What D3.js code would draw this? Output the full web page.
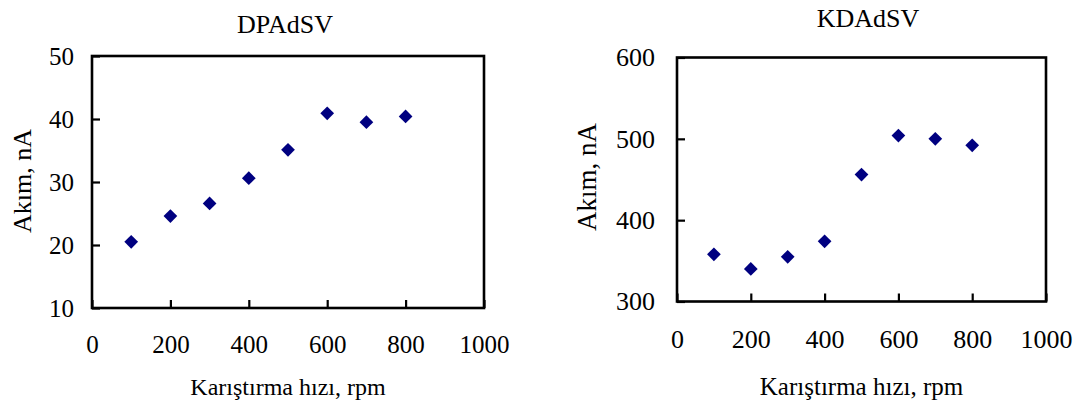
<!DOCTYPE html>
<html>
<head>
<meta charset="utf-8">
<script src="https://cdn.jsdelivr.net/npm/d3@7"></script>
<style>
  html, body { margin: 0; padding: 0; background: #fff; }
  svg text { font-family: "Liberation Serif", "Times New Roman", serif; fill: #000; }
</style>
</head>
<body>
<svg id="chart" width="1082" height="406"></svg>
<script>
// Stirring speed (rpm) shared by both panels
const speeds = [100, 200, 300, 400, 500, 600, 700, 800];
const xTicks = [0, 200, 400, 600, 800, 1000];

// DPAdSV peak current (nA)
const dpadsvCurrent = [20.5, 24.6, 26.6, 30.6, 35.1, 40.9, 39.5, 40.4];
const dpadsvTicks = [10, 20, 30, 40, 50];

// KDAdSV peak current (nA)
const kdadsvCurrent = [358, 340, 355, 374, 456, 504, 500, 492];
const kdadsvTicks = [300, 400, 500, 600];

const xTitle = "Karıştırma hızı, rpm";
const yTitle = "Akım, nA";

const svg = d3.select("#chart");
const serif = '"Liberation Serif", "Times New Roman", serif';

function panel(opts) {
  const { left, right, top, bottom, yDomain, yTicks, values, title,
          tickFont, titleFont, labelFont, yPad, xPad, titleY, titleX, yLabelX, yLabelY, xLabelY } = opts;

  const x = d3.scaleLinear().domain([0, 1000]).range([left, right]);
  const y = d3.scaleLinear().domain(yDomain).range([bottom, top]);
  const g = svg.append("g");

  // plot frame
  g.append("rect")
    .attr("x", left).attr("y", top)
    .attr("width", right - left).attr("height", bottom - top)
    .attr("fill", "none").attr("stroke", "#000").attr("stroke-width", 2.6);

  // axes with inward ticks
  const xAxis = d3.axisBottom(x).tickValues(xTicks).tickFormat(d3.format("d"))
    .tickSizeInner(-8).tickSizeOuter(0).tickPadding(xPad);
  const yAxis = d3.axisLeft(y).tickValues(yTicks).tickFormat(d3.format("d"))
    .tickSizeInner(-8).tickSizeOuter(0).tickPadding(yPad);

  const gx = g.append("g").attr("transform", `translate(0,${bottom})`).call(xAxis);
  const gy = g.append("g").attr("transform", `translate(${left},0)`).call(yAxis);
  [gx, gy].forEach(a => {
    a.select(".domain").remove();
    a.selectAll(".tick line").attr("stroke", "#000").attr("stroke-width", 2.2);
    a.selectAll(".tick text").style("font-size", tickFont + "px")
      .style("font-family", serif).attr("fill", "#000");
  });

  // data points as diamonds
  const diamond = d3.symbol().type(d3.symbolDiamond2).size(120);
  g.selectAll("path.pt").data(speeds.map((s, i) => [s, values[i]]))
    .join("path").attr("class", "pt")
    .attr("transform", d => `translate(${x(d[0])},${y(d[1])})`)
    .attr("d", diamond)
    .attr("fill", "#000080");

  // titles
  g.append("text").attr("x", titleX).attr("y", titleY)
    .attr("text-anchor", "middle").style("font-size", titleFont + "px").text(title);
  g.append("text").attr("x", (left + right) / 2).attr("y", xLabelY)
    .attr("text-anchor", "middle").style("font-size", labelFont + "px").text(xTitle);
  g.append("text")
    .attr("transform", `translate(${yLabelX},${yLabelY}) rotate(-90)`)
    .attr("text-anchor", "middle").attr("dy", "0.35em")
    .style("font-size", (labelFont + 2) + "px").text(yTitle);
}

panel({
  left: 92, right: 484, top: 56, bottom: 308,
  yDomain: [10, 50], yTicks: dpadsvTicks, values: dpadsvCurrent, title: "DPAdSV",
  tickFont: 25, titleFont: 26, labelFont: 24, yPad: 18, xPad: 27,
  titleX: 285, titleY: 33, yLabelX: 22, yLabelY: 181, xLabelY: 395
});

panel({
  left: 677, right: 1046, top: 57.5, bottom: 301.5,
  yDomain: [300, 600], yTicks: kdadsvTicks, values: kdadsvCurrent, title: "KDAdSV",
  tickFont: 26, titleFont: 26, labelFont: 25, yPad: 22, xPad: 28,
  titleX: 868, titleY: 27, yLabelX: 587, yLabelY: 177, xLabelY: 395
});
</script>
</body>
</html>
